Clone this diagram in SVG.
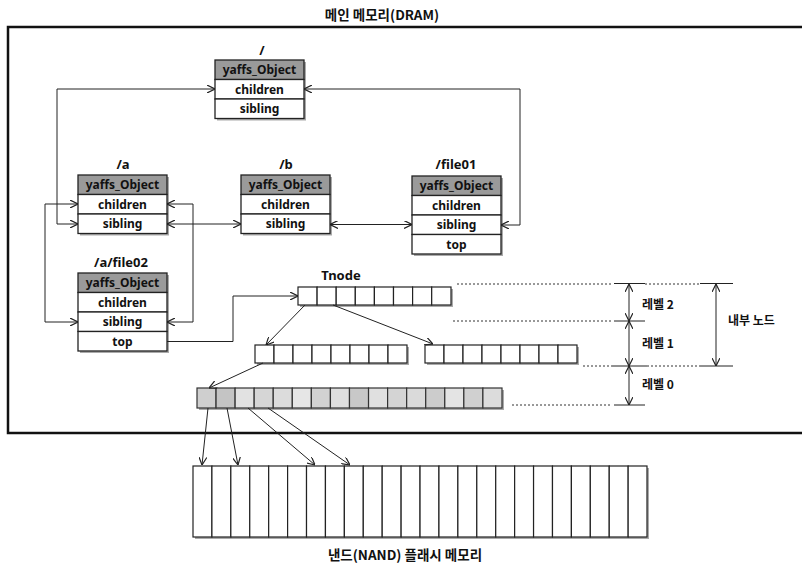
<svg xmlns="http://www.w3.org/2000/svg" width="802" height="563" viewBox="0 0 802 563">
<style>
text{font-family:"Noto Sans","Noto Sans CJK KR",sans-serif;font-weight:bold;fill:#111;}
.t{font-size:12px;text-anchor:middle;}
.lbl{font-size:13px;text-anchor:middle;}
.kr{font-family:"Noto Sans CJK KR",sans-serif;font-size:12px;font-weight:bold;}
.big{font-size:13.5px;text-anchor:middle;}
.box{fill:#fff;stroke:#222;stroke-width:1.3;}
.hdr{fill:#9a9a9a;stroke:#222;stroke-width:1.3;}
.sh{fill:#aaa;}
.cell{fill:#fff;stroke:#222;stroke-width:1.2;}
.con{fill:none;stroke:#222;stroke-width:1;}
.dot{fill:none;stroke:#333;stroke-width:1;stroke-dasharray:2 2;}
.sol{fill:none;stroke:#222;stroke-width:1;}
</style>
<defs>
<marker id="ar" viewBox="0 0 10 10" refX="10" refY="5" markerWidth="8" markerHeight="8" markerUnits="userSpaceOnUse" orient="auto-start-reverse">
<path d="M0,0 L10,5 L0,10" fill="none" stroke="#222" stroke-width="1.5"/>
</marker>
</defs>

<g id="frame">
<rect x="8" y="27" width="800" height="406" fill="none" stroke="#111" stroke-width="2.5"/>
<text class="kr big" x="382" y="20">메인 메모리(DRAM)</text>
</g>

<g id="node-root">
<text class="lbl" x="262" y="55">/</text>
<rect class="sh" x="217" y="62" width="89" height="58.5"/>
<rect class="hdr" x="215" y="60" width="89" height="19.5"/>
<rect class="box" x="215" y="79.5" width="89" height="19.5"/>
<rect class="box" x="215" y="99" width="89" height="19.5"/>
<text class="t" x="259.5" y="74">yaffs_Object</text>
<text class="t" x="259.5" y="93.5">children</text>
<text class="t" x="259.5" y="113">sibling</text>
</g>

<g id="node-a">
<text class="lbl" x="123" y="169">/a</text>
<rect class="sh" x="80" y="177" width="89" height="58.5"/>
<rect class="hdr" x="78" y="175" width="89" height="19.5"/>
<rect class="box" x="78" y="194.5" width="89" height="19.5"/>
<rect class="box" x="78" y="214" width="89" height="19.5"/>
<text class="t" x="122.5" y="189">yaffs_Object</text>
<text class="t" x="122.5" y="208.5">children</text>
<text class="t" x="122.5" y="228">sibling</text>
</g>

<g id="node-b">
<text class="lbl" x="286" y="169">/b</text>
<rect class="sh" x="243" y="177" width="89" height="58.5"/>
<rect class="hdr" x="241" y="175" width="89" height="19.5"/>
<rect class="box" x="241" y="194.5" width="89" height="19.5"/>
<rect class="box" x="241" y="214" width="89" height="19.5"/>
<text class="t" x="285.5" y="189">yaffs_Object</text>
<text class="t" x="285.5" y="208.5">children</text>
<text class="t" x="285.5" y="228">sibling</text>
</g>

<g id="node-file01">
<text class="lbl" x="456" y="169">/file01</text>
<rect class="sh" x="414" y="178" width="89" height="78"/>
<rect class="hdr" x="412" y="176" width="89" height="19.5"/>
<rect class="box" x="412" y="195.5" width="89" height="19.5"/>
<rect class="box" x="412" y="215" width="89" height="19.5"/>
<rect class="box" x="412" y="234.5" width="89" height="19.5"/>
<text class="t" x="456.5" y="190">yaffs_Object</text>
<text class="t" x="456.5" y="209.5">children</text>
<text class="t" x="456.5" y="229">sibling</text>
<text class="t" x="456.5" y="248.5">top</text>
</g>

<g id="node-file02">
<text class="lbl" x="121" y="267">/a/file02</text>
<rect class="sh" x="80" y="275" width="89" height="78"/>
<rect class="hdr" x="78" y="273" width="89" height="19.5"/>
<rect class="box" x="78" y="292.5" width="89" height="19.5"/>
<rect class="box" x="78" y="312" width="89" height="19.5"/>
<rect class="box" x="78" y="331.5" width="89" height="19.5"/>
<text class="t" x="122.5" y="287">yaffs_Object</text>
<text class="t" x="122.5" y="306.5">children</text>
<text class="t" x="122.5" y="326">sibling</text>
<text class="t" x="122.5" y="345.5">top</text>
</g>

<g id="tnode-l2">
<text class="lbl" x="341" y="280">Tnode</text>
<rect class="sh" x="300" y="289" width="153" height="18"/>
<g class="cell">
<rect x="298" y="287" width="19.1" height="18"/><rect x="317.1" y="287" width="19.1" height="18"/><rect x="336.2" y="287" width="19.1" height="18"/><rect x="355.3" y="287" width="19.1" height="18"/><rect x="374.4" y="287" width="19.1" height="18"/><rect x="393.5" y="287" width="19.1" height="18"/><rect x="412.6" y="287" width="19.1" height="18"/><rect x="431.7" y="287" width="19.3" height="18"/>
</g>
</g>

<g id="tnode-l1a">
<rect class="sh" x="257" y="347" width="152" height="18"/>
<g class="cell">
<rect x="255" y="345" width="19" height="18"/><rect x="274" y="345" width="19" height="18"/><rect x="293" y="345" width="19" height="18"/><rect x="312" y="345" width="19" height="18"/><rect x="331" y="345" width="19" height="18"/><rect x="350" y="345" width="19" height="18"/><rect x="369" y="345" width="19" height="18"/><rect x="388" y="345" width="19" height="18"/>
</g>
</g>

<g id="tnode-l1b">
<rect class="sh" x="427" y="347" width="152" height="18"/>
<g class="cell">
<rect x="425" y="345" width="19" height="18"/><rect x="444" y="345" width="19" height="18"/><rect x="463" y="345" width="19" height="18"/><rect x="482" y="345" width="19" height="18"/><rect x="501" y="345" width="19" height="18"/><rect x="520" y="345" width="19" height="18"/><rect x="539" y="345" width="19" height="18"/><rect x="558" y="345" width="19" height="18"/>
</g>
</g>

<g id="tnode-l0">
<rect class="sh" x="199" y="390" width="305" height="20"/>
<g stroke="#333" stroke-width="1.2">
<rect x="197" y="388" width="19.06" height="20" fill="#cfcfcf"/>
<rect x="216.06" y="388" width="19.06" height="20" fill="#c4c4c4"/>
<rect x="235.12" y="388" width="19.06" height="20" fill="#e2e2e2"/>
<rect x="254.18" y="388" width="19.06" height="20" fill="#d6d6d6"/>
<rect x="273.24" y="388" width="19.06" height="20" fill="#dcdcdc"/>
<rect x="292.3" y="388" width="19.06" height="20" fill="#e6e6e6"/>
<rect x="311.36" y="388" width="19.06" height="20" fill="#d2d2d2"/>
<rect x="330.42" y="388" width="19.06" height="20" fill="#dedede"/>
<rect x="349.48" y="388" width="19.06" height="20" fill="#c8c8c8"/>
<rect x="368.54" y="388" width="19.06" height="20" fill="#e0e0e0"/>
<rect x="387.6" y="388" width="19.06" height="20" fill="#d4d4d4"/>
<rect x="406.66" y="388" width="19.06" height="20" fill="#dadada"/>
<rect x="425.72" y="388" width="19.06" height="20" fill="#cccccc"/>
<rect x="444.78" y="388" width="19.06" height="20" fill="#e4e4e4"/>
<rect x="463.84" y="388" width="19.06" height="20" fill="#d0d0d0"/>
<rect x="482.9" y="388" width="19.1" height="20" fill="#dcdcdc"/>
</g>
</g>

<g id="nand">
<rect class="sh" x="195" y="468" width="454" height="71"/>
<g class="cell">
<rect x="193" y="466" width="18.92" height="71"/><rect x="211.92" y="466" width="18.92" height="71"/><rect x="230.84" y="466" width="18.92" height="71"/><rect x="249.76" y="466" width="18.92" height="71"/><rect x="268.68" y="466" width="18.92" height="71"/><rect x="287.6" y="466" width="18.92" height="71"/><rect x="306.52" y="466" width="18.92" height="71"/><rect x="325.44" y="466" width="18.92" height="71"/><rect x="344.36" y="466" width="18.92" height="71"/><rect x="363.28" y="466" width="18.92" height="71"/><rect x="382.2" y="466" width="18.92" height="71"/><rect x="401.12" y="466" width="18.92" height="71"/><rect x="420.04" y="466" width="18.92" height="71"/><rect x="438.96" y="466" width="18.92" height="71"/><rect x="457.88" y="466" width="18.92" height="71"/><rect x="476.8" y="466" width="18.92" height="71"/><rect x="495.72" y="466" width="18.92" height="71"/><rect x="514.64" y="466" width="18.92" height="71"/><rect x="533.56" y="466" width="18.92" height="71"/><rect x="552.48" y="466" width="18.92" height="71"/><rect x="571.4" y="466" width="18.92" height="71"/><rect x="590.32" y="466" width="18.92" height="71"/><rect x="609.24" y="466" width="18.92" height="71"/><rect x="628.16" y="466" width="18.84" height="71"/>
</g>
<text class="kr big" x="405" y="560">낸드(NAND) 플래시 메모리</text>
</g>

<g id="connectors">
<path class="con" d="M215,89 H57 V224 H78" marker-start="url(#ar)" marker-end="url(#ar)"/>
<path class="con" d="M78,204 H45 V322 H78" marker-start="url(#ar)" marker-end="url(#ar)"/>
<path class="con" d="M167,204 H193 V322 H167" marker-start="url(#ar)" marker-end="url(#ar)"/>
<path class="con" d="M167,224 H241" marker-start="url(#ar)" marker-end="url(#ar)"/>
<path class="con" d="M330,224.5 H412" marker-start="url(#ar)" marker-end="url(#ar)"/>
<path class="con" d="M304,89 H520 V225 H501" marker-start="url(#ar)" marker-end="url(#ar)"/>
<path class="con" d="M167,341.5 H233 V296 H298" marker-end="url(#ar)"/>
<path class="con" d="M305,305 L266,345" marker-end="url(#ar)"/>
<path class="con" d="M333,305 L433,344" marker-end="url(#ar)"/>
<path class="con" d="M263,363 L209,388" marker-end="url(#ar)"/>
<path class="con" d="M208,408 L202,465" marker-end="url(#ar)"/>
<path class="con" d="M227,408 L238,465" marker-end="url(#ar)"/>
<path class="con" d="M248,408 L315,465" marker-end="url(#ar)"/>
<path class="con" d="M268,408 L350,465" marker-end="url(#ar)"/>
</g>

<g id="levels">
<path class="dot" d="M457,284 H612 M645,284 H700"/>
<path class="sol" d="M614,283.5 H645 M700,283.5 H733"/>
<path class="dot" d="M453,321 H612"/>
<path class="sol" d="M614,321 H645"/>
<path class="dot" d="M583,366 H612 M647,366 H700"/>
<path class="sol" d="M612,366 H647 M700,366 H733"/>
<path class="dot" d="M512,405 H612"/>
<path class="sol" d="M614,405 H645"/>
<path class="con" d="M629,321 V284" marker-start="url(#ar)" marker-end="url(#ar)"/>
<path class="con" d="M629,366 V321" marker-start="url(#ar)" marker-end="url(#ar)"/>
<path class="con" d="M629,405 V366" marker-start="url(#ar)" marker-end="url(#ar)"/>
<path class="con" d="M716,366 V284" marker-start="url(#ar)" marker-end="url(#ar)"/>
<text class="kr" x="642" y="309">레벨 2</text>
<text class="kr" x="642" y="348">레벨 1</text>
<text class="kr" x="642" y="389">레벨 0</text>
<text class="kr" x="728" y="325">내부 노드</text>
</g>
</svg>
